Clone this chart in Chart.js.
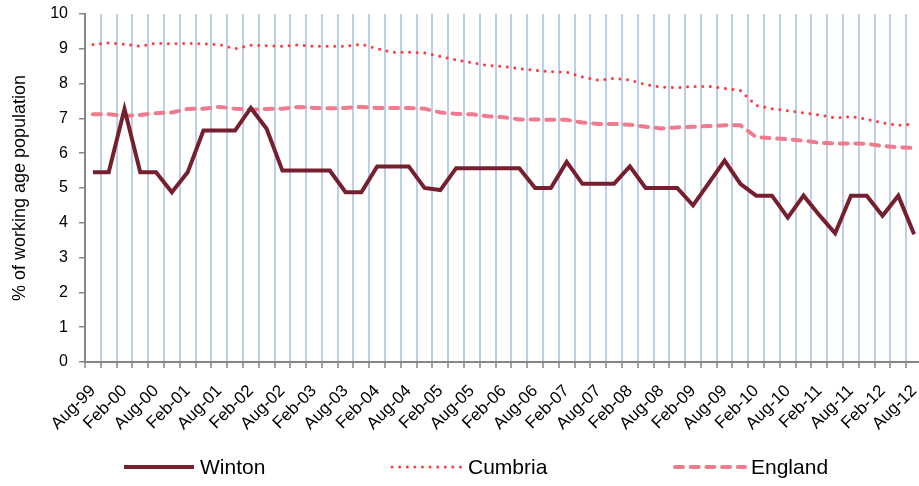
<!DOCTYPE html>
<html>
<head>
<meta charset="utf-8">
<script src="https://cdn.jsdelivr.net/npm/chart.js@4/dist/chart.umd.min.js"></script>
<style>
  html, body { margin: 0; padding: 0; background: #fff; overflow: hidden; }
  #wrap { width: 926px; height: 486px; }
</style>
</head>
<body>
<div id="wrap"><canvas id="unemploymentChart" width="926" height="486"></canvas></div>
<script>
  // quarterly periods, labelled every other one on the axis
  const periods = [
    "Aug-99", "Nov-99", "Feb-00", "May-00", "Aug-00", "Nov-00", "Feb-01", "May-01",
    "Aug-01", "Nov-01", "Feb-02", "May-02", "Aug-02", "Nov-02", "Feb-03", "May-03",
    "Aug-03", "Nov-03", "Feb-04", "May-04", "Aug-04", "Nov-04", "Feb-05", "May-05",
    "Aug-05", "Nov-05", "Feb-06", "May-06", "Aug-06", "Nov-06", "Feb-07", "May-07",
    "Aug-07", "Nov-07", "Feb-08", "May-08", "Aug-08", "Nov-08", "Feb-09", "May-09",
    "Aug-09", "Nov-09", "Feb-10", "May-10", "Aug-10", "Nov-10", "Feb-11", "May-11",
    "Aug-11", "Nov-11", "Feb-12", "May-12", "Aug-12"
  ];

  const winton = [
    5.45, 5.45, 7.27, 5.45, 5.45, 4.88, 5.45, 6.65, 6.65, 6.65,
    7.3, 6.7, 5.5, 5.5, 5.5, 5.5, 4.88, 4.88, 5.62, 5.62,
    5.62, 5.0, 4.94, 5.57, 5.57, 5.57, 5.57, 5.57, 5.0, 5.0,
    5.75, 5.12, 5.12, 5.12, 5.62, 5.0, 5.0, 5.0, 4.5, 5.14,
    5.79, 5.12, 4.78, 4.78, 4.15, 4.78, 4.22, 3.7, 4.78, 4.78,
    4.2, 4.78, 3.67
  ];

  const cumbria = [
    9.12, 9.17, 9.13, 9.07, 9.16, 9.14, 9.16, 9.14, 9.12, 9.0,
    9.1, 9.09, 9.07, 9.11, 9.07, 9.07, 9.07, 9.13, 9.0, 8.9,
    8.9, 8.88, 8.78, 8.68, 8.6, 8.52, 8.49, 8.43, 8.38, 8.34,
    8.33, 8.19, 8.1, 8.15, 8.1, 7.97, 7.9, 7.88, 7.92, 7.92,
    7.86, 7.8, 7.37, 7.28, 7.22, 7.16, 7.1, 7.01, 7.05, 6.98,
    6.87, 6.8, 6.84
  ];

  const england = [
    7.12, 7.12, 7.07, 7.1, 7.15, 7.17, 7.27, 7.28, 7.33, 7.28,
    7.25, 7.27, 7.28, 7.33, 7.3, 7.29, 7.3, 7.33, 7.3, 7.3,
    7.3, 7.28, 7.17, 7.13, 7.12, 7.06, 7.03, 6.97, 6.97, 6.96,
    6.96, 6.88, 6.84, 6.84, 6.82, 6.76, 6.71, 6.74, 6.76, 6.78,
    6.8, 6.8, 6.46, 6.43, 6.4, 6.36, 6.3, 6.28, 6.28, 6.27,
    6.21, 6.17, 6.15
  ];

  const FONT = "'Liberation Sans', Arial, sans-serif";
  const AXIS_GREY = "#868686";

  // legend drawn under the axis, spread out like the original
  const spreadLegend = {
    id: "spreadLegend",
    afterDraw(chart, args, opts) {
      const ctx = chart.ctx;
      ctx.save();
      chart.data.datasets.forEach((ds, i) => {
        const x = opts.starts[i];
        const y = opts.y;
        ctx.beginPath();
        ctx.lineWidth = ds.borderWidth;
        ctx.strokeStyle = ds.borderColor;
        ctx.lineCap = ds.borderCapStyle || "butt";
        ctx.setLineDash(ds.borderDash || []);
        ctx.moveTo(x, y);
        ctx.lineTo(x + opts.sample, y);
        ctx.stroke();
        ctx.setLineDash([]);
        ctx.fillStyle = "#000";
        ctx.font = opts.font;
        ctx.textBaseline = "middle";
        ctx.textAlign = "left";
        ctx.fillText(ds.label, x + opts.sample + opts.gap, y + 1);
      });
      ctx.restore();
    },
  };

  new Chart(document.getElementById("unemploymentChart"), {
    type: "line",
    data: {
      labels: periods,
      datasets: [
        {
          label: "Winton",
          data: winton,
          borderColor: "#76202f",
          borderWidth: 4,
          borderJoinStyle: "miter",
          pointRadius: 0,
          tension: 0,
        },
        {
          label: "Cumbria",
          data: cumbria,
          borderColor: "#ff3c44",
          borderWidth: 3,
          borderDash: [0.01, 7.6],
          borderCapStyle: "round",
          pointRadius: 0,
          tension: 0,
        },
        {
          label: "England",
          data: england,
          borderColor: "#f07a8e",
          borderWidth: 4,
          borderDash: [8, 7.7],
          borderCapStyle: "round",
          pointRadius: 0,
          tension: 0,
        },
      ],
    },
    plugins: [spreadLegend],
    options: {
      responsive: false,
      animation: false,
      layout: { padding: { top: 14, right: 4, bottom: 46, left: 0 } },
      plugins: {
        legend: { display: false },
        tooltip: { enabled: false },
        spreadLegend: {
          starts: [124, 392, 675],
          y: 467,
          sample: 70,
          gap: 6,
          font: "21px " + FONT,
        },
      },
      scales: {
        x: {
          offset: true,
          afterFit: (scale) => {
            scale.height = 78;
            scale.paddingLeft = 0;
            scale.paddingRight = 0;
          },
          grid: {
            offset: true,
            color: "#bccfe6",
            lineWidth: 2,
            tickColor: AXIS_GREY,
            tickLength: 6,
            tickWidth: 1.5,
          },
          border: { color: AXIS_GREY, width: 2 },
          ticks: {
            autoSkip: false,
            maxRotation: 45,
            minRotation: 45,
            padding: 13,
            color: "#000",
            font: { family: FONT, size: 17 },
            callback: function (value, index) {
              return index % 2 === 0 ? this.getLabelForValue(value) : "";
            },
          },
        },
        y: {
          min: 0,
          max: 10,
          afterFit: (scale) => {
            scale.width = 85;
            scale.paddingTop = 0;
            scale.paddingBottom = 0;
          },
          grid: {
            drawOnChartArea: false,
            color: AXIS_GREY,
            tickLength: 6,
            lineWidth: 1.5,
          },
          border: { color: AXIS_GREY, width: 2 },
          ticks: {
            stepSize: 1,
            padding: 11,
            color: "#000",
            font: { family: FONT, size: 16 },
          },
          title: {
            display: true,
            text: "% of working age population",
            color: "#000",
            padding: { top: 9, bottom: 0 },
            font: { family: FONT, size: 18 },
          },
        },
      },
    },
  });
</script>
</body>
</html>
